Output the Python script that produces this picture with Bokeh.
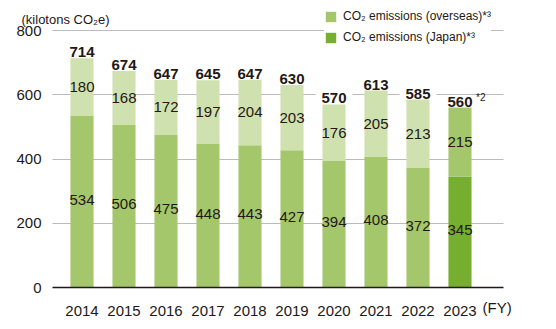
from bokeh.plotting import figure
from bokeh.models import ColumnDataSource, Range1d, FixedTicker, Label, Legend, LegendItem
from bokeh.core.properties import value
from bokeh.embed import file_html
from bokeh.resources import INLINE

years = ["2014", "2015", "2016", "2017", "2018", "2019", "2020", "2021", "2022", "2023"]
japan = [534, 506, 475, 448, 443, 427, 394, 408, 372, 345]
overseas = [180, 168, 172, 197, 204, 203, 176, 205, 213, 215]
totals = [714, 674, 647, 645, 647, 630, 570, 613, 585, 560]
notes = ["", "", "", "", "", "", "", "", "", "*2"]
y_ticks = [0, 200, 400, 600, 800]

LIGHT = "#d0e1b0"
MEDIUM = "#a5c76c"
DARK = "#76ae30"
TEXT = "#231815"
FONT = "Liberation Sans"

xs = list(range(len(years)))
japan_colors = [MEDIUM] * 9 + [DARK]
overseas_colors = [LIGHT] * 9 + [MEDIUM]

src = ColumnDataSource(dict(
    x=xs,
    japan=japan,
    overseas=overseas,
    total=[j + o for j, o in zip(japan, overseas)],
    jmid=[j / 2 for j in japan],
    omid=[j + o / 2 for j, o in zip(japan, overseas)],
    jlab=[str(v) for v in japan],
    olab=[str(v) for v in overseas],
    tlab=[str(v) for v in totals],
    note=notes,
    jc=japan_colors,
    oc=overseas_colors,
))

X0, X1 = -0.702, 10.036   # plotting area in data units
p = figure(width=556, height=329, output_backend="svg", toolbar_location=None,
           x_range=Range1d(-1.9405, 11.298), y_range=Range1d(-130.74, 893.39),
           min_border_left=0, min_border_right=0, min_border_top=0, min_border_bottom=0)
p.outline_line_color = None
p.background_fill_color = "white"

r_low = p.vbar(x="x", bottom=0, top="japan", width=0.55, fill_color="jc", line_color=None, source=src)
r_up = p.vbar(x="x", bottom="japan", top="total", width=0.55, fill_color="oc", line_color=None, source=src)

common = dict(text_font=value(FONT), text_font_size="15px", text_color=TEXT, text_align="center")
p.text(x="x", y="jmid", text="jlab", text_baseline="middle", y_offset=-2, source=src, **common)
p.text(x="x", y="omid", text="olab", text_baseline="middle", source=src, **common)
p.text(x="x", y="total", text="tlab", text_baseline="bottom", y_offset=-1, text_font_style="bold",
       background_fill_color="white", padding=(6, 0), source=src, **common)
p.text(x="x", y="total", text="note", text_baseline="alphabetic", text_align="left",
       x_offset=16, y_offset=-10, text_font=value(FONT), text_font_size="10px",
       text_color=TEXT, source=src)

# axes drawn at fixed locations inside the full-canvas frame
p.xaxis.fixed_location = 0
p.xaxis.bounds = (X0, X1)
p.xaxis.ticker = FixedTicker(ticks=xs)
p.xaxis.major_label_overrides = {i: y for i, y in zip(xs, years)}
p.xaxis.major_tick_line_color = None
p.xaxis.minor_tick_line_color = None
p.xaxis.axis_line_color = TEXT
p.xaxis.axis_line_width = 1.5
p.xaxis.major_label_text_font = FONT
p.xaxis.major_label_text_font_size = "15px"
p.xaxis.major_label_text_color = TEXT
p.xaxis.major_label_standoff = 12

p.yaxis.fixed_location = X0
p.yaxis.ticker = FixedTicker(ticks=y_ticks)
p.yaxis.axis_line_color = None
p.yaxis.major_tick_line_color = None
p.yaxis.minor_tick_line_color = None
p.yaxis.major_label_text_font = FONT
p.yaxis.major_label_text_font_size = "15px"
p.yaxis.major_label_text_color = TEXT
p.yaxis.major_label_standoff = 5

p.xgrid.grid_line_color = None
p.ygrid.ticker = FixedTicker(ticks=y_ticks[1:])
p.ygrid.cross_bounds = (X0, X1)
p.ygrid.grid_line_color = "#bbbbbb"
p.ygrid.grid_line_width = 1

p.add_layout(Label(x=9.536, y=-62, text="(FY)", text_font=FONT, text_font_size="15px",
                   text_color=TEXT, text_baseline="middle", text_align="left"))
p.add_layout(Label(x=-1.44, y=834, text="(kilotons CO₂e)", text_font=FONT, text_font_size="13px",
                   text_color=TEXT, text_baseline="alphabetic", text_align="left"))

legend = Legend(items=[
    LegendItem(label="CO₂ emissions (overseas)*³", renderers=[r_up], index=9),
    LegendItem(label="CO₂ emissions (Japan)*³", renderers=[r_low], index=9),
], location=(324, 285), glyph_width=13, glyph_height=13, label_height=13, spacing=7,
    padding=0, margin=0, label_standoff=6, label_text_font=FONT, label_text_font_size="12px",
    label_text_color=TEXT, border_line_color=None, background_fill_color="white", background_fill_alpha=1)
p.add_layout(legend, "center")

open("out.html", "w").write(file_html(p, INLINE))
